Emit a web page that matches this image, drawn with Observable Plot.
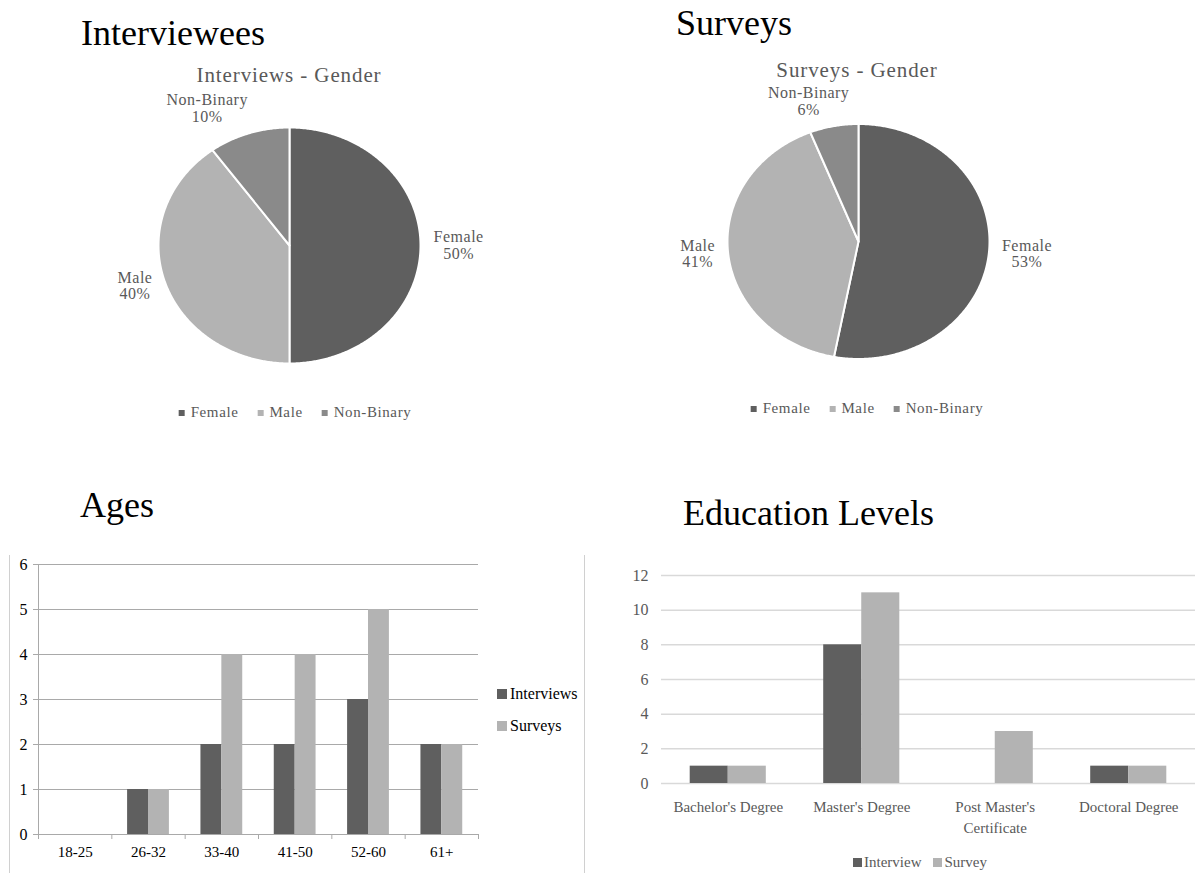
<!DOCTYPE html>
<html>
<head>
<meta charset="utf-8">
<script src="https://cdn.jsdelivr.net/npm/d3@7"></script>
<script src="https://cdn.jsdelivr.net/npm/@observablehq/plot@0.6"></script>
<style>
  html, body { margin: 0; padding: 0; background: #fff; }
  body { font-family: "Liberation Serif", "Times New Roman", serif; }
  #root { position: relative; width: 1195px; height: 873px; overflow: hidden; background: #fff; }
  .title { font-size: 36px; line-height: 1; color: #000; white-space: nowrap; }
  .pietitle { font-size: 21px; line-height: 1; color: #595959; letter-spacing: 0.9px; white-space: nowrap; transform: translateX(-50%); }
  .legend { display: flex; align-items: center; white-space: nowrap; font-size: 15px; line-height: 15px; color: #595959; }
  .legend .sw { display: inline-block; width: 6px; height: 6px; margin-right: 6px; }
  .legend .item { display: flex; align-items: center; }
  .pie text { letter-spacing: 0.5px; }
  .pielegend { letter-spacing: 0.6px; transform: translateX(-50%); }
  .pielegend .item + .item { margin-left: 19px; }
  .edulegend .sw { width: 9px; height: 9px; margin-right: 2px; }
  .edulegend .item + .item { margin-left: 12px; }
  .agelegend { display: block; color: #000; font-size: 16px; line-height: 16px; }
  .agelegend .item { margin-bottom: 16px; }
  .agelegend .sw { width: 10px; height: 10px; margin-right: 3px; }
  .vline { position: absolute; width: 1px; background: #d0d0d0; }
  svg { overflow: visible; }
</style>
</head>
<body>
<div id="root"></div>
<script>
// ---------------- data ----------------
const genderCategories = ["Female", "Male", "Non-Binary"];
const interviewGender = [50, 40, 10];
const surveyGender = [53, 41, 6];
const genderColors = ["#5f5f5f", "#b3b3b3", "#8a8a8a"];

const ageGroups = ["18-25", "26-32", "33-40", "41-50", "52-60", "61+"];
const ageInterviews = [0, 1, 2, 2, 3, 2];
const ageSurveys = [0, 1, 4, 4, 5, 2];
const ageSeries = ["Interviews", "Surveys"];
const ageTicks = [0, 1, 2, 3, 4, 5, 6];

const eduLevels = ["Bachelor's Degree", "Master's Degree", "Post Master's\nCertificate", "Doctoral Degree"];
const eduInterview = [1, 8, 0, 1];
const eduSurvey = [1, 11, 3, 1];
const eduSeries = ["Interview", "Survey"];
const eduTicks = [0, 2, 4, 6, 8, 10, 12];

const barColors = ["#5f5f5f", "#b3b3b3"];
// --------------------------------------

const root = document.getElementById("root");
const FONT = '"Liberation Serif", "Times New Roman", serif';

function place(el, left, top) {
  el.style.position = "absolute";
  el.style.left = left + "px";
  el.style.top = top + "px";
  root.appendChild(el);
  return el;
}
function div(cls, text) {
  const d = document.createElement("div");
  d.className = cls;
  if (text != null) d.textContent = text;
  return d;
}
function legend(cls, names, colors) {
  const d = div("legend " + cls);
  names.forEach((n, i) => {
    const it = div("item");
    const sw = document.createElement("span");
    sw.className = "sw";
    sw.style.background = colors[i];
    it.appendChild(sw);
    it.appendChild(document.createTextNode(n));
    d.appendChild(it);
  });
  return d;
}

// text width measurement for label offsets
const ctx = document.createElement("canvas").getContext("2d");
function labelHalfWidth(text, size) {
  ctx.font = `${size}px "Liberation Serif"`;
  return d3.max(text.split("\n"), l => ctx.measureText(l).width + 0.5 * l.length) / 2;
}

function pieChart(values, {width, height, cx, cy, rx, ry}) {
  let cum = 0;
  const total = d3.sum(values);
  const slices = genderCategories.map((name, i) => {
    const a0 = cum / total * 2 * Math.PI;
    cum += values[i];
    const a1 = cum / total * 2 * Math.PI;
    return {name, value: values[i], a0, a1, color: genderColors[i]};
  });
  const marks = [];
  for (const s of slices) {
    const n = Math.max(2, Math.ceil((s.a1 - s.a0) / (Math.PI / 360)));
    const pts = [{x: 0, y: 0}];
    for (let k = 0; k <= n; k++) {
      const a = s.a0 + (s.a1 - s.a0) * k / n;
      pts.push({x: Math.sin(a), y: Math.cos(a)});
    }
    pts.push({x: 0, y: 0});
    marks.push(Plot.line(pts, {x: "x", y: "y", fill: s.color, stroke: "white", strokeWidth: 2, strokeLinejoin: "round"}));
  }
  const fs = 16;
  for (const s of slices) {
    const m = (s.a0 + s.a1) / 2;
    const sx = Math.sin(m), cy_ = Math.cos(m);
    const label = `${s.name}\n${s.value}%`;
    const hw = labelHalfWidth(label, fs);
    const dx = Math.sign(sx) * Math.min(1, Math.abs(sx) * 3) * hw;
    const lineAnchor = cy_ > 0.7 ? "bottom" : cy_ < -0.7 ? "top" : "middle";
    marks.push(Plot.text([s], {
      x: () => 1.1 * sx, y: () => 1.1 * cy_, text: () => label,
      textAnchor: "middle", dx, lineAnchor, fontSize: fs, fill: "#595959", lineHeight: 1.05
    }));
  }
  const svg = Plot.plot({
    width, height, margin: 0,
    x: {domain: [-1, 1], range: [cx - rx, cx + rx], axis: null},
    y: {domain: [-1, 1], range: [cy + ry, cy - ry], axis: null},
    style: {fontFamily: FONT, background: "transparent", overflow: "visible"},
    marks
  });
  svg.classList.add("pie");
  return svg;
}

// ---------- titles ----------
place(div("title", "Interviewees"), 81, 15);
place(div("title", "Surveys"), 676, 5);
place(div("title", "Ages"), 80, 487);
place(div("title", "Education Levels"), 683, 495);

// ---------- pies ----------
place(div("pietitle", "Interviews - Gender"), 289, 65);
place(pieChart(interviewGender, {width: 590, height: 300, cx: 289, cy: 155, rx: 131, ry: 118}), 0, 90);
place(legend("pielegend", genderCategories, genderColors), 295, 405);

place(div("pietitle", "Surveys - Gender"), 857, 60);
place(pieChart(surveyGender, {width: 600, height: 300, cx: 263, cy: 151, rx: 131, ry: 117.5}), 595, 90);
place(legend("pielegend", genderCategories, genderColors), 867, 401);

// ---------- ages ----------
const barW = 0.285;
const ageRows = ageGroups.flatMap((g, i) => [
  {group: g, series: ageSeries[0], x1: i + 0.5 - barW, x2: i + 0.5, value: ageInterviews[i]},
  {group: g, series: ageSeries[1], x1: i + 0.5, x2: i + 0.5 + barW, value: ageSurveys[i]}
]);
const ageSvg = Plot.plot({
  width: 590, height: 323,
  marginLeft: 38, marginRight: 112, marginTop: 14, marginBottom: 39,
  x: {domain: [0, ageGroups.length], axis: null, label: null},
  y: {domain: [0, 6], axis: null, label: null},
  color: {domain: ageSeries, range: barColors},
  style: {fontFamily: FONT, fontSize: "16px", color: "#000", background: "transparent"},
  marks: [
    Plot.ruleY(ageTicks, {stroke: "#a9a9a9", strokeWidth: 1}),
    Plot.rectY(ageRows, {x1: "x1", x2: "x2", y: "value", fill: "series"}),
    Plot.ruleX([0], {stroke: "#a9a9a9"}),
    Plot.axisY(ageTicks, {tickSize: 5, tickPadding: 6, stroke: "#a9a9a9", fill: "#000", fontSize: 16, label: null}),
    Plot.axisX(d3.range(ageGroups.length + 1), {tickSize: 5, tickFormat: () => "", stroke: "#a9a9a9", label: null}),
    Plot.text(ageGroups, {x: (d, i) => i + 0.5, frameAnchor: "bottom", lineAnchor: "top", dy: 12, fontSize: 15, fill: "#000"})
  ]
});
place(ageSvg, 0, 550);
place(legend("agelegend", ageSeries, barColors), 497, 686);
const l1 = place(div("vline"), 9, 555); l1.style.height = "318px";
const l2 = place(div("vline"), 584, 555); l2.style.height = "318px";

// ---------- education ----------
const eduRows = eduLevels.flatMap((g, i) => [
  {level: g, series: eduSeries[0], x1: i + 0.5 - barW, x2: i + 0.5, value: eduInterview[i]},
  {level: g, series: eduSeries[1], x1: i + 0.5, x2: i + 0.5 + barW, value: eduSurvey[i]}
]);
const eduSvg = Plot.plot({
  width: 595, height: 318,
  marginLeft: 61, marginRight: 0, marginTop: 20, marginBottom: 90,
  x: {domain: [0, eduLevels.length], axis: null, label: null},
  y: {domain: [0, 12], axis: null, label: null},
  color: {domain: eduSeries, range: barColors},
  style: {fontFamily: FONT, fontSize: "15px", color: "#595959", background: "transparent"},
  marks: [
    Plot.ruleY(eduTicks, {stroke: "#d9d9d9", strokeWidth: 1.5}),
    Plot.rectY(eduRows, {x1: "x1", x2: "x2", y: "value", fill: "series"}),
    Plot.axisY(eduTicks, {tickSize: 0, tickPadding: 13, fill: "#595959", fontSize: 16, label: null}),
    Plot.text(eduLevels, {x: (d, i) => i + 0.5, frameAnchor: "bottom", lineAnchor: "top", dy: 14, lineHeight: 1.4, fontSize: 15, fill: "#595959"})
  ]
});
place(eduSvg, 600, 555);
place(legend("edulegend", eduSeries, barColors), 853, 855);
</script>
</body>
</html>
